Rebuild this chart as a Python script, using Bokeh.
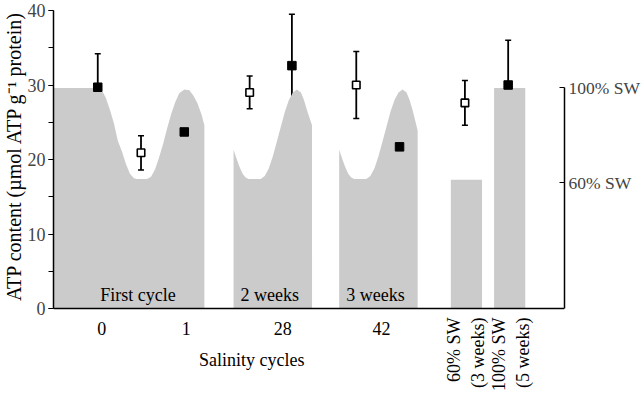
from bokeh.plotting import figure
from bokeh.models import (ColumnDataSource, Range1d, LinearAxis, FixedTicker,
                          SingleIntervalTicker, Whisker, TeeHead, Span, Title)
from bokeh.core.properties import value
from bokeh.embed import file_html
from bokeh.resources import INLINE

FONT = "Liberation Serif"
GREY = "#cbcbcb"

# Horizontal layout units along the salinity-cycle schematic
cycle_tick_pos = [48, 132, 228, 326]
cycle_tick_labels = ["0", "1", "28", "42"]

# ATP content (umol ATP g-1 protein): open = low-salinity phase, filled = high-salinity phase
open_x = [87, 195, 301, 409]
open_mean = [20.9, 29.0, 30.0, 27.6]
open_err = [2.3, 2.2, 4.5, 3.0]

filled_x = [44, 130, 237, 344, 452]
filled_mean = [29.7, 23.7, 32.6, 21.7, 30.0]
filled_err = [4.5, 1.4, 6.9, 1.6, 6.0]

# Salinity profile outlines for the three cycling periods (drawn on the ATP scale)
cycle1_x = [0, 0, 44, 48, 52, 56, 60, 64, 68, 72, 76, 80, 83, 93, 97, 101, 105, 109,
            113, 117, 121, 125, 130, 135, 139, 143, 147, 150, 150]
cycle1_y = [0, 29.6, 29.6, 29.3, 28.3, 26.7, 24.9, 22.5, 21.1, 19.4, 18.1, 17.5, 17.4,
            17.4, 17.7, 18.7, 20.3, 22.1, 24.2, 26.1, 27.7, 28.9, 29.4, 29.3, 28.6,
            27.6, 26.1, 24.6, 0]
cycle2_x = [179, 179, 182, 185, 188, 191, 194, 206, 210, 214, 218, 222, 226, 230, 234,
            238, 242, 246, 249, 252, 255, 257, 257]
cycle2_y = [0, 21.3, 20.1, 19.0, 18.1, 17.6, 17.4, 17.4, 17.8, 18.8, 20.4, 22.4, 24.4,
            26.4, 28.0, 29.0, 29.4, 29.0, 28.0, 26.6, 25.4, 24.6, 0]
cycle3_x = [284, 284, 287, 290, 293, 296, 299, 311, 315, 319, 323, 327, 331, 335, 339,
            343, 347, 351, 354, 357, 360, 362, 362]
cycle3_y = [0, 21.3, 20.1, 19.0, 18.1, 17.6, 17.4, 17.4, 17.8, 18.8, 20.4, 22.4, 24.4,
            26.4, 28.0, 29.0, 29.4, 29.0, 28.0, 26.6, 25.0, 23.9, 0]

cycle_names = ["First cycle", "2 weeks", "3 weeks"]
cycle_name_x = [84, 215, 320]

# Constant-salinity controls
const_left = [395, 438]
const_right = [426, 469]
const_top = [17.3, 29.6]
const_labels = ["60% SW\n(3 weeks)", "100% SW\n(5 weeks)"]
const_label_x = [410.5, 455]

# Salinity reference levels on the right-hand scale
sw_levels = [16.9, 29.6]
sw_labels = ["60% SW", "100% SW"]

# The frame reaches down to the bottom edge so that the cycle labels under the
# baseline can be drawn as text glyphs; the axes are bounded to the 0-40 band.
p = figure(width=642, height=394, output_backend="svg", toolbar_location=None,
           x_range=Range1d(0, 508), y_range=Range1d(-11.54, 40),
           x_axis_location=None,
           min_border_left=0, min_border_right=0, min_border_top=10,
           min_border_bottom=0)
p.outline_line_color = None
p.xgrid.visible = False
p.ygrid.visible = False
p.background_fill_color = "white"

# Salinity schematic
p.patches(xs=[cycle1_x, cycle2_x, cycle3_x], ys=[cycle1_y, cycle2_y, cycle3_y],
          fill_color=GREY, line_color=None)
p.quad(left=const_left, right=const_right, bottom=0, top=const_top,
       fill_color=GREY, line_color=None)

name_src = ColumnDataSource(dict(x=cycle_name_x, t=cycle_names))
p.text(x="x", y=1.75, text="t", source=name_src, text_font=value(FONT),
       text_font_size="18px", text_align="center", text_baseline="alphabetic",
       text_color="black")

# Error bars and means
def add_series(xs, means, errs, fill):
    src = ColumnDataSource(dict(x=xs, m=means,
                                lo=[m - e for m, e in zip(means, errs)],
                                hi=[m + e for m, e in zip(means, errs)]))
    w = Whisker(base="x", upper="hi", lower="lo", source=src, line_width=1.8,
                line_color="black",
                upper_head=TeeHead(size=6, line_width=1.5, line_color="black"),
                lower_head=TeeHead(size=6, line_width=1.5, line_color="black"))
    p.add_layout(w)
    if fill:
        p.scatter(x="x", y="m", source=src, marker="square", size=8.5,
                  fill_color="black", line_color="black")
    else:
        p.scatter(x="x", y="m", source=src, marker="square", size=7.5,
                  fill_color="white", line_color="black", line_width=1.6)

add_series(open_x, open_mean, open_err, False)
add_series(filled_x, filled_mean, filled_err, True)

# Baseline of the salinity-cycle axis
p.add_layout(Span(location=0, dimension="width", line_color="black", line_width=1.5))

tick_src = ColumnDataSource(dict(x=cycle_tick_pos, t=cycle_tick_labels))
p.text(x="x", y=-2.7, text="t", source=tick_src, text_font=value(FONT),
       text_font_size="18px", text_align="center", text_baseline="alphabetic",
       text_color="black")
p.text(x=[197], y=[-6.85], text=["Salinity cycles"], text_font=value(FONT),
       text_font_size="18px", text_align="center", text_baseline="alphabetic",
       text_color="black")
const_src = ColumnDataSource(dict(x=const_label_x, t=const_labels))
p.text(x="x", y=-1.2, text="t", source=const_src, angle=1.5708,
       text_font=value(FONT), text_font_size="18px", text_align="right",
       text_baseline="middle", text_line_height=1.2, text_color="black")

# Left axis
ya = p.yaxis[0]
ya.bounds = (0, 40)
ya.ticker = SingleIntervalTicker(interval=10, num_minor_ticks=2)
ya.major_label_text_font = FONT
ya.major_label_text_font_size = "18px"
ya.major_label_standoff = 3
ya.major_tick_out = 5
ya.major_tick_in = 0
ya.minor_tick_out = 5
ya.minor_tick_in = 0
ya.axis_line_width = 1.5
ya.major_tick_line_width = 1.2
ya.minor_tick_line_width = 1.2

# Left-hand axis title, anchored at the top of the 0-40 band
p.add_layout(Title(text="ATP content (µmol ATP g⁻¹ protein)", align="right",
                   offset=0, standoff=0, text_font=FONT, text_font_style="normal",
                   text_font_size="20px", text_color="black"), "left")

# Right axis with salinity levels
ra = LinearAxis(ticker=FixedTicker(ticks=sw_levels), bounds=(0, sw_levels[-1]),
                major_label_overrides={k: v for k, v in zip(sw_levels, sw_labels)})
ra.major_label_text_font = FONT
ra.major_label_text_font_size = "17.5px"
ra.major_label_standoff = 4
ra.major_tick_out = 0
ra.major_tick_in = 5
ra.minor_tick_out = 0
ra.minor_tick_in = 0
ra.axis_line_width = 1.5
ra.major_tick_line_width = 1.2
p.add_layout(ra, "right")

open("out.html", "w").write(file_html(p, INLINE))
